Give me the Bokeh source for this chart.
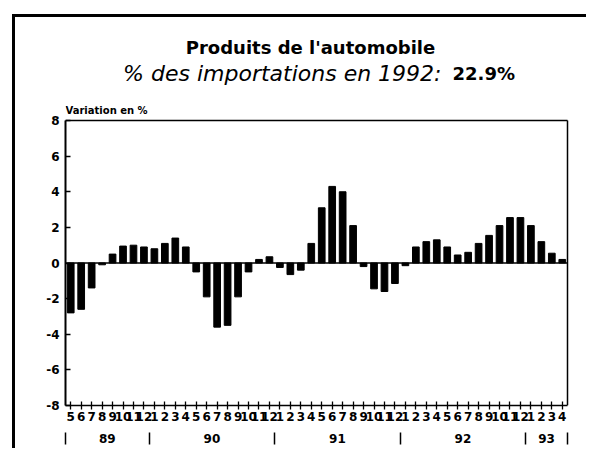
from bokeh.plotting import figure
from bokeh.models import LinearAxis, FixedTicker, Range1d, ColumnDataSource
from bokeh.core.properties import value
from bokeh.embed import file_html
from bokeh.resources import INLINE

# ---------------- data ----------------
title_text = "Produits de l'automobile"
subtitle_text = "% des importations en 1992: "
subtitle_value = "22.9%"
y_label = "Variation en %"

years = ["89", "90", "91", "92", "93"]
months_1989 = [5, 6, 7, 8, 9, 10, 11, 12]
months_1990 = [1, 2, 3, 4, 5, 6, 7, 8, 9, 10, 11, 12]
months_1991 = [1, 2, 3, 4, 5, 6, 7, 8, 9, 10, 11, 12]
months_1992 = [1, 2, 3, 4, 5, 6, 7, 8, 9, 10, 11, 12]
months_1993 = [1, 2, 3, 4]

var_1989 = [-2.8, -2.6, -1.4, -0.1, 0.5, 0.95, 1.0, 0.9]
var_1990 = [0.8, 1.1, 1.4, 0.9, -0.5, -1.9, -3.6, -3.5, -1.9, -0.5, 0.2, 0.35]
var_1991 = [-0.25, -0.65, -0.4, 1.1, 3.1, 4.3, 4.0, 2.1, -0.2, -1.45, -1.6, -1.15]
var_1992 = [-0.15, 0.9, 1.2, 1.3, 0.9, 0.45, 0.6, 1.1, 1.55, 2.1, 2.55, 2.55]
var_1993 = [2.1, 1.2, 0.55, 0.2]

y_min, y_max = -8, 8
y_ticks = [-8, -6, -4, -2, 0, 2, 4, 6, 8]

# ---------------- build ----------------
month_groups = [months_1989, months_1990, months_1991, months_1992, months_1993]
var_groups = [var_1989, var_1990, var_1991, var_1992, var_1993]

pos, months, vals = [], [], []
year_centers, year_bounds = [], []
i = 1
for mg, vg in zip(month_groups, var_groups):
    start = i
    year_bounds.append(start - 0.5)
    for m, v in zip(mg, vg):
        pos.append(i)
        months.append(m)
        vals.append(v)
        i += 1
    year_centers.append((start + i - 1) / 2.0)
year_bounds.append(i - 0.5)

x_lo, x_hi = 0.5, len(pos) + 0.5
src = ColumnDataSource(dict(x=pos, v=vals))

FONT = "DejaVu Sans"

# layout (pixels)
W, H = 574, 434
LEFT, TOP_PAD, BOTTOM = 50, 103, 46
BOX_W, EXTRA_R = 502, 8
BOX_H = H - BOTTOM - TOP_PAD
pxu_y = BOX_H / (y_max - y_min)
pxu_x = BOX_W / (x_hi - x_lo)
y_top = y_max + TOP_PAD / pxu_y
x_end = x_hi + EXTRA_R / pxu_x

p = figure(width=W, height=H,
           x_range=Range1d(x_lo, x_end), y_range=Range1d(y_min, y_top),
           output_backend="svg", toolbar_location=None,
           x_axis_location=None, y_axis_location=None,
           min_border_left=LEFT, min_border_right=W - LEFT - BOX_W - EXTRA_R,
           min_border_top=0, min_border_bottom=BOTTOM)
p.styles = {"border-top": "3px solid black", "border-left": "3px solid black",
            "margin-left": "12px", "margin-top": "14px"}
p.grid.visible = False
p.outline_line_color = None
p.background_fill_color = "white"
p.border_fill_color = "white"

# y axis
yaxis = LinearAxis(ticker=FixedTicker(ticks=y_ticks), bounds=(y_min, y_max))
yaxis.major_label_overrides = {t: str(t) for t in y_ticks}
yaxis.major_tick_in = 5
yaxis.major_tick_out = 0
yaxis.major_tick_line_width = 1.5
yaxis.minor_tick_line_color = None
yaxis.axis_line_width = 2
yaxis.major_label_text_font = FONT
yaxis.major_label_text_font_style = "bold"
yaxis.major_label_text_font_size = "12px"
yaxis.major_label_text_color = "black"
yaxis.major_label_standoff = 6
p.add_layout(yaxis, "left")

# month axis
xaxis = LinearAxis(ticker=FixedTicker(ticks=pos), bounds=(x_lo, x_hi))
xaxis.major_label_overrides = {x: str(m) for x, m in zip(pos, months)}
xaxis.major_tick_in = 4
xaxis.major_tick_out = 4
xaxis.major_tick_line_width = 1.3
xaxis.minor_tick_line_color = None
xaxis.axis_line_width = 1.5
xaxis.major_label_text_font = FONT
xaxis.major_label_text_font_style = "bold"
xaxis.major_label_text_font_size = "12px"
xaxis.major_label_text_color = "black"
xaxis.major_label_standoff = 2
p.add_layout(xaxis, "below")

# year axis (labels + separators)
yrax = LinearAxis(ticker=FixedTicker(ticks=year_centers, minor_ticks=year_bounds),
                  bounds=(x_lo, x_hi))
yrax.major_label_overrides = {c: y for c, y in zip(year_centers, years)}
yrax.axis_line_color = None
yrax.major_tick_line_color = None
yrax.major_tick_in = 0
yrax.major_tick_out = 0
yrax.minor_tick_in = -9
yrax.minor_tick_out = 21
yrax.minor_tick_line_width = 1.5
yrax.minor_tick_line_color = "black"
yrax.major_label_text_font = FONT
yrax.major_label_text_font_style = "bold"
yrax.major_label_text_font_size = "12px"
yrax.major_label_text_color = "black"
yrax.major_label_standoff = -11
p.add_layout(yrax, "below")

# plot box: top, right, zero line
p.segment(x0=[x_lo, x_hi, x_lo], y0=[y_max, y_min, 0],
          x1=[x_hi, x_hi, x_hi], y1=[y_max, y_max, 0],
          line_color="black", line_width=1.5)

# bars
p.vbar(x="x", top="v", bottom=0, width=0.64, source=src,
       fill_color="black", line_color="black")

# titles
mid = (x_lo + x_hi) / 2.0
p.text(x=[mid], y=[y_max + 73 / pxu_y], text=[title_text], x_offset=-6,
       text_align="center", text_baseline="alphabetic",
       text_font=value(FONT), text_font_style="bold",
       text_font_size="18px", text_color="black")
p.text(x=[mid], y=[y_max + 47 / pxu_y], text=[subtitle_text], x_offset=132,
       text_align="right", text_baseline="alphabetic",
       text_font=value(FONT), text_font_style="italic",
       text_font_size="22px", text_color="black")
p.text(x=[mid], y=[y_max + 47 / pxu_y], text=[subtitle_value], x_offset=136,
       text_align="left", text_baseline="alphabetic",
       text_font=value(FONT), text_font_style="bold",
       text_font_size="18px", text_color="black")
p.text(x=[x_lo], y=[y_max + 10 / pxu_y], text=[y_label],
       text_align="left", text_baseline="alphabetic",
       text_font=value(FONT), text_font_style="bold",
       text_font_size="10px", text_color="black")

open("out.html", "w").write(file_html(p, INLINE))
